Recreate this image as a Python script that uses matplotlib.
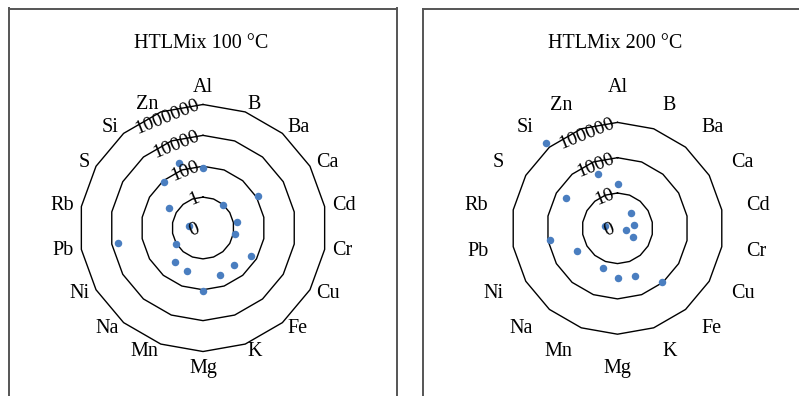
import numpy as np
import matplotlib.pyplot as plt

# element concentrations in the two HTL mixtures (log radial axis)
elements = ['Al', 'B', 'Ba', 'Ca', 'Cd', 'Cr', 'Cu', 'Fe', 'K', 'Mg',
            'Mn', 'Na', 'Ni', 'Pb', 'Rb', 'S', 'Si', 'Zn']
htl100 = [75, np.nan, 0.95, 125, 1.6, 1.25, 38, 13.5, 17, 120,
          9, 7, 1.1, 3900, 0.085, 3.6, 83, 310]
htl200 = [32, np.nan, 1.45, np.nan, 0.89, 0.31, 0.98, 910, 78, 64,
          26, np.nan, 42, 770, 0.52, 245, 220000, 190]

rings100 = [0.01, 1, 100, 1e4, 1e6]
ring_labels100 = ['0', '1', '100', '10000', '1000000']
rings200 = [0.1, 10, 1000, 1e5]
ring_labels200 = ['0', '10', '1000', '100000']

plt.rcParams['font.family'] = ['Liberation Serif', 'DejaVu Serif']

W, H = 799, 396
fig = plt.figure(figsize=(W / 100, H / 100), dpi=100)

n = len(elements)
angles = np.deg2rad(np.arange(n) * 360.0 / n)   # clockwise from top
sx, sy = np.sin(angles), np.cos(angles)


def radar(box, centre, s, values, rings, ring_labels, title):
    left, top, right, bottom = box
    cx, cy = centre
    ax = fig.add_axes([left / W, 1 - bottom / H, (right - left) / W, (bottom - top) / H])
    ax.set_xlim((left - cx) / s, (right - cx) / s)
    ax.set_ylim((cy - bottom) / s, (cy - top) / s)
    ax.set_xticks([])
    ax.set_yticks([])
    ax.spines['bottom'].set_visible(False)
    for sp in ['left', 'top', 'right']:
        ax.spines[sp].set_color('#555555')
        ax.spines[sp].set_linewidth(1.4)

    lo = np.log10(rings[0])
    for v in rings[1:]:
        r = np.log10(v) - lo
        ax.plot(np.append(r * sx, r * sx[0]), np.append(r * sy, r * sy[0]),
                color='black', lw=1.0, zorder=2)

    r = np.log10(np.array(values, float)) - lo
    ax.plot(r * sx, r * sy, 'o', ls='none', ms=5.4, color='#4A7EC0',
            mec='none', zorder=3)

    for v, lab in zip(rings, ring_labels):
        rr = np.log10(v) - lo
        ax.text(-4 / s, rr, lab, rotation=22, rotation_mode='anchor',
                ha='right', va='center', fontsize=14, zorder=4)

    R = 131 / s
    for name, a_x, a_y in zip(elements, sx, sy):
        if a_x > 1e-6:
            ha = 'left'
        elif a_x < -1e-6:
            ha = 'right'
        else:
            ha = 'center'
        if abs(a_x) < 1e-6:
            va = 'bottom' if a_y > 0 else 'top'
        else:
            va = 'center'
        ax.text(R * a_x, R * a_y, name, ha=ha, va=va, fontsize=14.5)

    ax.text(-2 / s, (cy - 43) / s, title, ha='center', va='center', fontsize=14.5)
    return ax


radar((9, 8.5, 397.3, 400), (203, 228), 15.44, htl100, rings100,
      ring_labels100, 'HTLMix 100 °C')
radar((423.3, 8.5, 805, 400), (617.5, 228.3), 17.65, htl200, rings200,
      ring_labels200, 'HTLMix 200 °C')

fig.savefig('out.png', dpi=100)
